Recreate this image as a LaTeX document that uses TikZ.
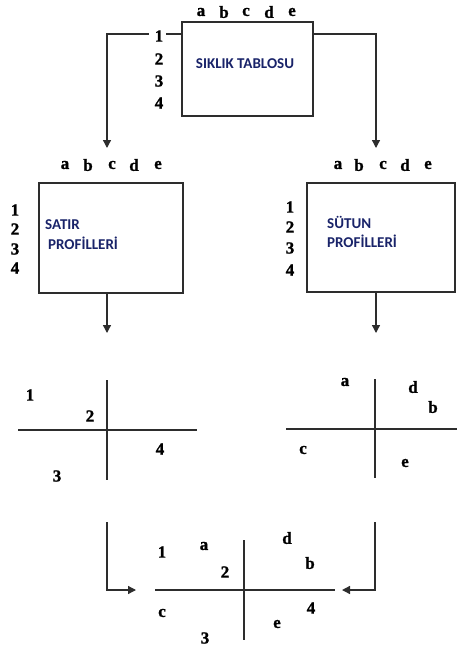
\documentclass[tikz,border=0pt]{standalone}
\usepackage{fontspec}
\setmainfont{Liberation Serif}
\newfontfamily\labfont[BoldFeatures={FakeBold=1.2}]{Liberation Serif}
\newfontfamily\boxfont{Carlito}
\usetikzlibrary{arrows.meta}
\definecolor{boxblue}{RGB}{25,35,105}
\definecolor{linegray}{RGB}{45,45,45}
\tikzset{
  lab/.style={inner sep=0pt, font=\labfont\bfseries\fontsize{17}{17}\selectfont},
  frame/.style={draw=linegray, line width=1.3pt, inner sep=0pt},
  ln/.style={draw=linegray, line width=1.3pt},
  arr/.style={ln, -{Triangle[length=8pt,width=8pt]}},
  btxt/.style={inner sep=0pt, text=boxblue, font=\boxfont\bfseries\fontsize{15}{15}\selectfont},
}
\begin{document}
\begin{tikzpicture}[x=1pt,y=-1pt]
\useasboundingbox (0,0) rectangle (457,649);
% ---- top box
\node[frame, minimum width=131pt, minimum height=94pt] (top) at (247.5,69) {};
\node[btxt] (ttxt) at (245,64) {SIKLIK TABLOSU};
\foreach \l/\x in {a/201,b/224,c/246,d/269,e/292} \node[lab] (t\l) at (\x,12) {\l};
\foreach \n/\y in {1/36,2/59,3/81,4/103} \node[lab] (trow\n) at (159,\y) {\n};
% ---- left box
\node[frame, minimum width=144pt, minimum height=110pt] (lbox) at (111,238) {};
\node[btxt, anchor=west] (ltxt1) at (45,225) {SATIR};
\node[btxt, anchor=west] (ltxt2) at (48,243) {PROFİLLERİ};
\foreach \l/\x in {a/65,b/88,c/112,d/134,e/158} \node[lab] (l\l) at (\x,165) {\l};
\foreach \n/\y in {1/210,2/229,3/249,4/268} \node[lab] (lrow\n) at (15,\y) {\n};
% ---- right box
\node[frame, minimum width=148pt, minimum height=109pt] (rbox) at (381,237.5) {};
\node[btxt, anchor=west] (rtxt1) at (327,222) {SÜTUN};
\node[btxt, anchor=west] (rtxt2) at (327,241) {PROFİLLERİ};
\foreach \l/\x in {a/338,b/359,c/383,d/405,e/428} \node[lab] (r\l) at (\x,165) {\l};
\foreach \n/\y in {1/207,2/227,3/248,4/270} \node[lab] (rrow\n) at (290,\y) {\n};
% ---- top connectors
\coordinate (cl1) at (107,34);
\coordinate (cl2) at (107,148);
\coordinate (cr1) at (376,34);
\coordinate (cr2) at (376,148);
\draw[arr] ([xshift=-6pt]cl1 -| trow1.west) -- (cl1) -- (cl2);
\draw[ln] ([xshift=3pt]cl1 -| trow1.east) -- (cl1 -| top.west);
\draw[arr] (cr1 -| top.east) -- (cr1) -- (cr2);
% ---- box to plot connectors
\coordinate (la) at (107,333);
\coordinate (ra) at (376,333);
\draw[arr] (lbox.south -| la) -- (la);
\draw[arr] (rbox.south -| ra) -- (ra);
% ---- left plot
\coordinate (lp1) at (18,430); \coordinate (lp2) at (197,430);
\coordinate (lp3) at (107,380); \coordinate (lp4) at (107,480);
\draw[ln] (lp1) -- (lp2); \draw[ln] (lp3) -- (lp4);
\node[lab] (p1) at (30,395) {1};
\node[lab] (p2) at (90,416) {2};
\node[lab] (p4) at (160,449) {4};
\node[lab] (p3) at (57,476) {3};
% ---- right plot
\coordinate (rp1) at (286,429); \coordinate (rp2) at (457,429);
\coordinate (rp3) at (375,379); \coordinate (rp4) at (375,478);
\draw[ln] (rp1) -- (rp2); \draw[ln] (rp3) -- (rp4);
\node[lab] (qa) at (345,382) {a};
\node[lab] (qd) at (413,387) {d};
\node[lab] (qb) at (433,407) {b};
\node[lab] (qc) at (303,450) {c};
\node[lab] (qe) at (405,463) {e};
% ---- bottom plot
\coordinate (bp1) at (155,590); \coordinate (bp2) at (335,590);
\coordinate (bp3) at (244,540); \coordinate (bp4) at (244,640);
\draw[ln] (bp1) -- (bp2); \draw[ln] (bp3) -- (bp4);
\node[lab] (s1) at (162,552) {1};
\node[lab] (sa) at (204,546) {a};
\node[lab] (s2) at (225,572) {2};
\node[lab] (sd) at (287,538) {d};
\node[lab] (sb) at (310,563) {b};
\node[lab] (sc) at (162,613) {c};
\node[lab] (s4) at (311,608) {4};
\node[lab] (se) at (277,624) {e};
\node[lab] (s3) at (205,638) {3};
% ---- bottom connectors
\coordinate (bl1) at (107,522); \coordinate (bl2) at (107,590); \coordinate (bl3) at (136,590);
\coordinate (br1) at (375,522); \coordinate (br2) at (375,590); \coordinate (br3) at (342,590);
\draw[arr] (bl1) -- (bl2) -- (bl3);
\draw[arr] (br1) -- (br2) -- (br3);
\end{tikzpicture}
\end{document}
